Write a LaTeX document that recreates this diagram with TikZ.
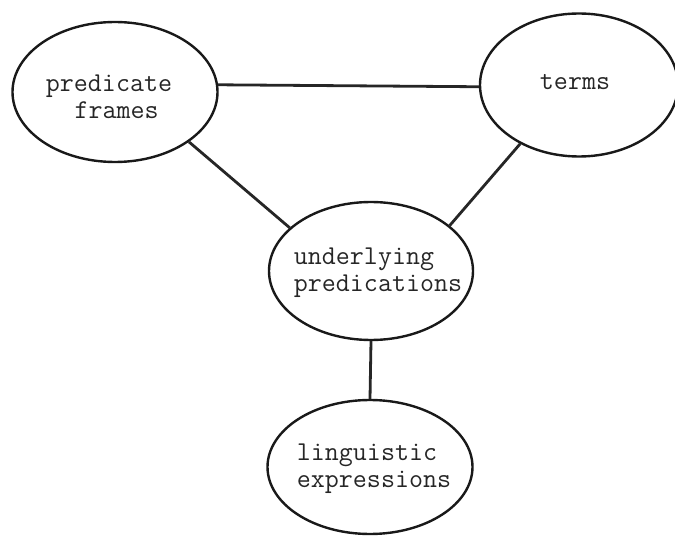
\documentclass[tikz,border=0pt]{standalone}
\usetikzlibrary{shapes.geometric}
\begin{document}
\begin{tikzpicture}[x=1pt,y=-1pt,
  blob/.style={draw=black!90, line width=2.4pt, ellipse, inner sep=0pt},
  txt/.style={inner sep=0pt, align=left, text=black!85, font=\ttfamily\fontsize{27.2}{27}\selectfont},
  link/.style={draw=black!85, line width=2.8pt}]
\useasboundingbox (0,0) rectangle (675,540);
\node[blob, minimum width=205pt, minimum height=140pt] (pf) at (115,92) {};
\node[blob, minimum width=198pt, minimum height=143pt] (tm) at (579,85) {};
\node[blob, minimum width=204pt, minimum height=138pt] (up) at (371,271) {};
\node[blob, minimum width=205pt, minimum height=134pt] (le) at (370,467) {};
\node[txt] (pft) at (109,97) {predicate\\\hspace*{1.05em}frames};
\node[txt] (tmt) at (575,82) {terms};
\node[txt] (upt) at (378,273) {underlying\\predications};
\node[txt] (let) at (374,469) {linguistic\\expressions};
\draw[link] (pf.4) -- (tm.181);
\draw[link] (pf.-34) -- (up.152);
\draw[link] (tm.-135) -- (up.30);
\draw[link] (up.south) -- (le.north);
\end{tikzpicture}
\end{document}
